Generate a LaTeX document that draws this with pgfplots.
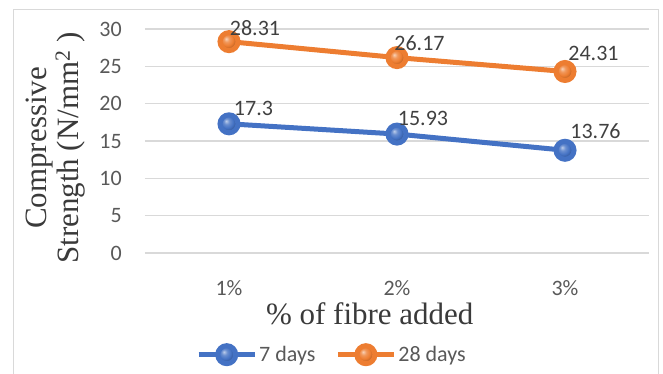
\documentclass[border=0pt]{standalone}
\usepackage{fontspec}
\setmainfont{Liberation Serif}
\newfontfamily\carlito{Carlito}
\usepackage{pgfplots}
\pgfplotsset{compat=1.18}
\usepackage{pgfplotstable}

\definecolor{seven}{HTML}{4472C4}
\definecolor{twentyeight}{HTML}{ED7D31}
\definecolor{gridgray}{HTML}{D9D9D9}
\definecolor{ticktext}{HTML}{595959}
\definecolor{labeltext}{HTML}{404040}
\definecolor{titletext}{HTML}{3A3A3A}

% softer ball shading for the markers: light highlight, darker rim
\makeatletter
\pgfdeclareradialshading[tikz@ball]{ball}{\pgfqpoint{-8bp}{8bp}}{%
  color(0bp)=(tikz@ball!35!white);
  color(8bp)=(tikz@ball!80!white);
  color(17bp)=(tikz@ball);
  color(25bp)=(tikz@ball!75!black);
  color(50bp)=(tikz@ball!55!black)}
\makeatother

% strength values with label offsets (pt) for the value labels
\pgfplotstableread{
x y lab dx dy
1 17.30 17.3 24.5 15
2 15.93 15.93 26 16
3 13.76 13.76 30.5 19.5
}\sevendays
\pgfplotstableread{
x y lab dx dy
1 28.31 28.31 26 13.5
2 26.17 26.17 22.5 14
3 24.31 24.31 28.5 18.5
}\twentyeightdays

\pgfplotsset{
  value labels/.style={
    forget plot, draw=none, mark=none,
    point meta=explicit symbolic,
    visualization depends on={\thisrow{dx}\as\labdx},
    visualization depends on={\thisrow{dy}\as\labdy},
    nodes near coords={\pgfplotspointmeta},
    every node near coord/.append style={anchor=center, inner sep=0pt,
      xshift=\labdx pt, yshift=\labdy pt,
      font=\carlito\fontsize{22}{26}\selectfont, text=labeltext},
  },
}

\begin{document}
\begin{tikzpicture}
\path[use as bounding box] (-145pt,-121pt) rectangle (518pt,253pt);
\draw[gridgray, line width=1pt] (-131pt,243pt) rectangle (513pt,-130pt);
\begin{axis}[
  at={(0pt,0pt)}, anchor=south west,
  scale only axis, width=504pt, height=224pt,
  xmin=0.5, xmax=3.5, ymin=0, ymax=30,
  xtick={1,2,3}, xticklabels={1\%,2\%,3\%},
  ytick={0,5,...,30},
  /pgf/number format/assume math mode=true,
  axis line style={draw=none},
  major tick length=0pt,
  ymajorgrids, grid style={gridgray, line width=1.3pt},
  tick label style={font=\carlito\fontsize{22}{26}\selectfont, text=ticktext, inner sep=0pt},
  yticklabel style={anchor=east, xshift=-23pt},
  xticklabel style={anchor=north, yshift=-27pt},
  xlabel={\% of fibre added},
  xlabel style={at={(axis description cs:0.446,-0.321)}, anchor=base,
    font=\fontsize{31}{34}\selectfont, text=titletext, inner sep=0pt},
  ylabel={Compressive\\Strength (N/mm\textsuperscript{2} )},
  ylabel style={at={(axis description cs:-0.1766,0.469)}, anchor=center, rotate=0,
    align=center, font=\fontsize{31}{32}\selectfont, text=titletext, inner sep=0pt},
  legend columns=2,
  legend style={at={(axis description cs:0.371,-0.454)}, anchor=center,
    draw=none, fill=none, font=\carlito\fontsize{22}{26}\selectfont,
    text=ticktext, inner sep=0pt,
    /tikz/every even column/.append style={column sep=18pt}},
  legend image code/.code={
    \draw[mark repeat=2, mark phase=2, #1] plot coordinates {(0pt,0pt) (28pt,0pt) (56pt,0pt)};
  },
  clip=false,
]
\draw[gridgray, line width=1.3pt] (axis cs:0.5,0) -- (axis cs:3.5,0);
\addplot[color=seven, line width=5pt, mark=ball, mark size=9pt,
  mark options={ball color=seven}]
  table[x=x, y=y] {\sevendays};
\addlegendentry{7 days}
\addplot[color=twentyeight, line width=5pt, mark=ball, mark size=9pt,
  mark options={ball color=twentyeight}]
  table[x=x, y=y] {\twentyeightdays};
\addlegendentry{28 days}
\addplot[value labels] table[x=x, y=y, meta=lab] {\sevendays};
\addplot[value labels] table[x=x, y=y, meta=lab] {\twentyeightdays};
\end{axis}
\end{tikzpicture}
\end{document}
